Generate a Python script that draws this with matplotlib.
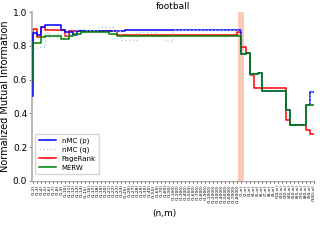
import matplotlib
matplotlib.use("Agg")
import matplotlib.pyplot as plt
import numpy as np

# tick labels (n,m)
m_left = ["2","3","4","5","6","7","8","9","10","11","12","13","14","15","16","17","18","19","20",
          "21","22","23","24","25","26","27","28","29","30","40","50","60","70","80","90","100",
          "200","300","400","500","600","700","800","900","1000","2000","3000","4000","5000",
          "6000","7000","8000"]
n_right = ["1","2","3","4","5","6","7","8","9","10","20","30","40","50","60","70","80","90","100"]
labels = ["(1," + m + ")" for m in m_left] + ["(" + n + ",\u221e)" for n in n_right]

nmc_p = [0.50, 0.874, 0.864, 0.913, 0.923, 0.923, 0.923, 0.923, 0.893, 0.884, 0.884, 0.864, 0.89,
         0.885, 0.885, 0.885, 0.885, 0.885, 0.885, 0.885, 0.885, 0.885, 0.885, 0.885, 0.893, 0.893,
         0.893, 0.893, 0.893, 0.893, 0.893, 0.893, 0.893, 0.893, 0.893, 0.893, 0.893, 0.893, 0.893,
         0.893, 0.893, 0.893, 0.893, 0.893, 0.893, 0.893, 0.893, 0.893, 0.893, 0.893, 0.893, 0.893,
         0.893, 0.75, 0.76, 0.633, 0.633, 0.64, 0.534, 0.534, 0.534, 0.534, 0.534, 0.534, 0.42,
         0.33, 0.33, 0.33, 0.33, 0.45, 0.527]
nmc_q = [0.785, 0.785, 0.795, 0.795, 0.88, 0.854, 0.854, 0.87, 0.87, 0.865, 0.87, 0.87, 0.9,
         0.9, 0.895, 0.895, 0.895, 0.91, 0.91, 0.91, 0.91, 0.885, 0.885, 0.834, 0.834, 0.834,
         0.834, 0.88, 0.88, 0.88, 0.88, 0.88, 0.86, 0.86, 0.83, 0.83, 0.893, 0.893, 0.893, 0.893,
         0.893, 0.893, 0.893, 0.893, 0.893, 0.893, 0.893, 0.893, 0.893, 0.893, 0.893, 0.893,
         0.893, 0.75, 0.76, 0.633, 0.633, 0.64, 0.534, 0.534, 0.534, 0.534, 0.534, 0.534, 0.42,
         0.33, 0.33, 0.33, 0.33, 0.45, 0.527]
pagerank = [0.765, 0.90, 0.85, 0.909, 0.893, 0.893, 0.893, 0.893, 0.893, 0.858, 0.888, 0.888,
            0.888, 0.888, 0.888, 0.888, 0.888, 0.888, 0.888, 0.888, 0.888, 0.888, 0.864, 0.864,
            0.864, 0.864, 0.864, 0.864, 0.864, 0.864, 0.864, 0.864, 0.864, 0.864, 0.864, 0.864,
            0.864, 0.864, 0.864, 0.864, 0.864, 0.864, 0.864, 0.864, 0.864, 0.864, 0.864, 0.864,
            0.864, 0.864, 0.864, 0.864, 0.88, 0.795, 0.76, 0.627, 0.549, 0.549, 0.549, 0.549,
            0.549, 0.549, 0.549, 0.549, 0.36, 0.33, 0.33, 0.33, 0.33, 0.30, 0.28]
merw = [0.59, 0.818, 0.818, 0.85, 0.855, 0.855, 0.86, 0.86, 0.84, 0.84, 0.86, 0.87, 0.87, 0.88,
        0.88, 0.88, 0.88, 0.88, 0.88, 0.88, 0.87, 0.87, 0.86, 0.86, 0.86, 0.86, 0.86, 0.86, 0.86,
        0.86, 0.86, 0.86, 0.86, 0.86, 0.86, 0.86, 0.86, 0.86, 0.86, 0.86, 0.86, 0.86, 0.86, 0.86,
        0.86, 0.86, 0.86, 0.86, 0.86, 0.86, 0.86, 0.86, 0.86, 0.75, 0.76, 0.633, 0.633, 0.64,
        0.534, 0.534, 0.534, 0.534, 0.534, 0.534, 0.42, 0.33, 0.33, 0.33, 0.33, 0.45, 0.45]
highlight = 52

x = np.arange(len(labels))

fig = plt.figure(figsize=(3.2, 2.4), dpi=100)
ax = fig.add_axes([0.1, 0.246, 0.88, 0.704])

ax.axvspan(highlight - 0.75, highlight + 0.55, color="#f7a58a", alpha=0.6, lw=0, zorder=0)
ax.step(x, nmc_p, where="pre", color="blue", lw=1.1, label="nMC (p)", zorder=3)
ax.step(x, nmc_q, where="pre", color="#9fd8ee", lw=1.0, ls=":", label="nMC (q)", zorder=4)
ax.step(x, pagerank, where="pre", color="red", lw=1.1, label="PageRank", zorder=2)
ax.step(x, merw, where="pre", color="green", lw=1.1, label="MERW", zorder=5)

ax.set_xlim(-0.3, len(labels) - 1)
ax.set_ylim(0.0, 1.0)
ax.set_xticks(x)
ax.set_xticklabels(labels, rotation=90, fontsize=3.2)
ax.set_yticks([0.0, 0.2, 0.4, 0.6, 0.8, 1.0])
ax.tick_params(axis="y", labelsize=6.5, length=2.5, width=0.8, color="#888888", pad=1)
ax.tick_params(axis="x", length=1.5, width=0.5, pad=1)
for s in ["top", "right"]:
    ax.spines[s].set_visible(False)
ax.spines["left"].set_color("#aaaaaa")
ax.spines["left"].set_linewidth(1.2)
ax.spines["bottom"].set_color("#aaaaaa")
ax.spines["bottom"].set_linewidth(0.8)
ax.set_title("football", fontsize=6.5, pad=2)
ax.set_ylabel("Normalized Mutual Information", fontsize=7, labelpad=2)
ax.set_xlabel("(n,m)", fontsize=6.5)
ax.xaxis.set_label_coords(0.47, -0.165)
ax.legend(loc="lower left", fontsize=5, handlelength=2.5, borderpad=0.5, labelspacing=0.4,
          frameon=True, bbox_to_anchor=(0.0, 0.02))

fig.savefig("out.png", dpi=100)
